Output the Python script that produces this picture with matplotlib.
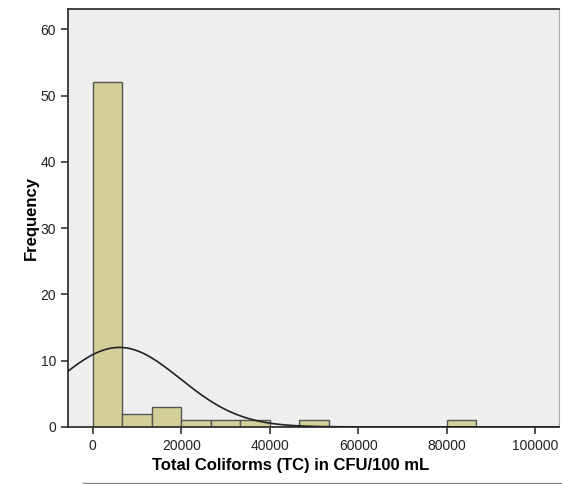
import numpy as np
import matplotlib.pyplot as plt
from matplotlib.lines import Line2D

plt.rcParams['font.family'] = ['Liberation Sans', 'DejaVu Sans']

# histogram bins (width 20000/3) and counts
bin_width = 20000 / 3
bin_left = [i * bin_width for i in range(13)]
counts = [52, 2, 3, 1, 1, 1, 0, 1, 0, 0, 0, 0, 1]

# fitted normal curve parameters
n_total = sum(counts)
mean_tc = 6000
sd_tc = 13750

x_ticks = [0, 20000, 40000, 60000, 80000, 100000]
y_ticks = [0, 10, 20, 30, 40, 50, 60]

fig = plt.figure(figsize=(5.62, 4.84), dpi=100)
ax = fig.add_axes([0.121, 0.118, 0.874, 0.864])
ax.set_facecolor('#eeeeee')

ax.bar(bin_left, counts, width=bin_width, align='edge',
       color='#d3cf98', edgecolor='#555555', linewidth=1.0, zorder=2)

xs = np.linspace(-5600, 105400, 500)
ys = n_total * bin_width / (sd_tc * np.sqrt(2 * np.pi)) * np.exp(-0.5 * ((xs - mean_tc) / sd_tc) ** 2)
ax.plot(xs, ys, color='#222222', linewidth=1.2, zorder=3)

ax.set_xlim(-5600, 105400)
ax.set_ylim(0, 63.1)
ax.set_xticks(x_ticks)
ax.set_yticks(y_ticks)
ax.tick_params(direction='out', length=5, width=1.2, color='#333333',
               labelsize=10, labelcolor='#222222')

for side in ['left', 'bottom', 'top']:
    ax.spines[side].set_color('#333333')
    ax.spines[side].set_linewidth(1.3)
ax.spines['right'].set_color('#aaaaaa')

ax.set_xlabel('Total Coliforms (TC) in CFU/100 mL', fontsize=12, fontweight='bold', va='center')
ax.xaxis.set_label_coords(0.454, -0.093)
ax.set_ylabel('Frequency', fontsize=12, fontweight='bold', va='center')
ax.yaxis.set_label_coords(-0.075, 0.5)

fig.add_artist(Line2D([83 / 562, 1.0], [1.5 / 484, 1.5 / 484], color='#888888', linewidth=1))

fig.savefig('out.png', dpi=100)
